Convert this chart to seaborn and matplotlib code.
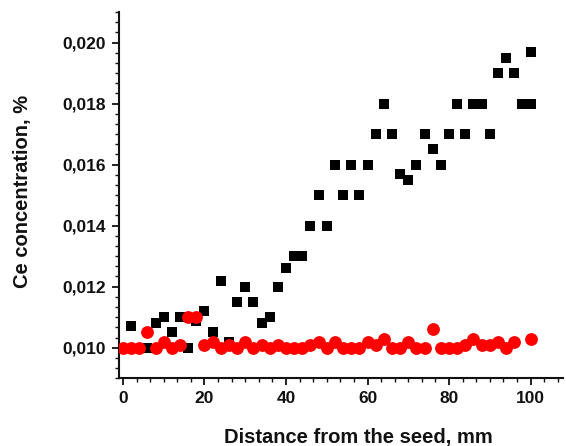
import numpy as np
import pandas as pd
import matplotlib
matplotlib.use("Agg")
import matplotlib.pyplot as plt
import seaborn as sns
from matplotlib.ticker import FuncFormatter, AutoMinorLocator, MultipleLocator

# black squares
sq_x = [2, 6, 8, 10, 12, 14, 16, 18, 20, 22, 24, 26, 28, 30, 32, 34, 36, 38, 40,
        42, 44, 46, 48, 50, 52, 54, 56, 58, 60, 62, 64, 66, 68, 70, 72, 74, 76,
        78, 80, 82, 84, 86, 88, 90, 92, 94, 96, 98, 100, 100]
sq_y = [0.0107, 0.0100, 0.0108, 0.0110, 0.0105, 0.0110, 0.0100, 0.01086, 0.0112,
        0.0105, 0.0122, 0.0102, 0.0115, 0.0120, 0.0115, 0.0108, 0.0110, 0.0120,
        0.0126, 0.0130, 0.0130, 0.0140, 0.0150, 0.0140, 0.0160, 0.0150, 0.0160,
        0.0150, 0.0160, 0.0170, 0.0180, 0.0170, 0.0157, 0.0155, 0.0160, 0.0170,
        0.0165, 0.0160, 0.0170, 0.0180, 0.0170, 0.0180, 0.0180, 0.0170, 0.0190,
        0.0195, 0.0190, 0.0180, 0.0180, 0.0197]

# red circles
ci_x = [0, 2, 4, 6, 8, 10, 12, 14, 16, 18, 20, 22, 24, 26, 28, 30, 32, 34, 36, 38,
        40, 42, 44, 46, 48, 50, 52, 54, 56, 58, 60, 62, 64, 66, 68, 70, 72, 74, 76,
        78, 80, 82, 84, 86, 88, 90, 92, 94, 96, 100]
ci_y = [0.0100, 0.0100, 0.0100, 0.0105, 0.0100, 0.0102, 0.0100, 0.0101, 0.0110,
        0.0110, 0.0101, 0.0102, 0.0100, 0.0101, 0.0100, 0.0102, 0.0100, 0.0101,
        0.0100, 0.0101, 0.0100, 0.0100, 0.0100, 0.0101, 0.0102, 0.0100, 0.0102,
        0.0100, 0.0100, 0.0100, 0.0102, 0.0101, 0.0103, 0.0100, 0.0100, 0.0102,
        0.0100, 0.0100, 0.0106, 0.0100, 0.0100, 0.0100, 0.0101, 0.0103, 0.0101,
        0.0101, 0.0102, 0.0100, 0.0102, 0.0103]

sns.set_style("ticks")
plt.rcParams['font.family'] = ['Liberation Sans', 'DejaVu Sans']
plt.rcParams['font.weight'] = 'bold'
plt.rcParams['text.color'] = '#111111'
plt.rcParams['axes.labelcolor'] = '#111111'
plt.rcParams['xtick.color'] = '#111111'
plt.rcParams['ytick.color'] = '#111111'

fig = plt.figure(figsize=(5.66, 4.46), dpi=100)
ax = fig.add_axes([0.210, 0.152, 0.785, 0.821])

sns.scatterplot(x=sq_x, y=sq_y, marker='s', s=55, color='black', linewidth=0, ax=ax, zorder=2)
sns.scatterplot(x=ci_x, y=ci_y, marker='o', s=85, color='red', linewidth=0, ax=ax, zorder=3)

ax.set_xlim(-1, 108)
ax.set_ylim(0.009, 0.021)
ax.xaxis.set_major_locator(MultipleLocator(20))
ax.yaxis.set_major_locator(MultipleLocator(0.002))
ax.xaxis.set_minor_locator(AutoMinorLocator(6))
ax.yaxis.set_minor_locator(AutoMinorLocator(6))
ax.yaxis.set_major_formatter(FuncFormatter(lambda v, p: f"{v:.3f}".replace('.', ',')))
ax.xaxis.set_major_formatter(FuncFormatter(lambda v, p: f"{v:.0f}"))

for s in ['top', 'right']:
    ax.spines[s].set_visible(False)
for s in ['left', 'bottom']:
    ax.spines[s].set_linewidth(1.5)
    ax.spines[s].set_color('#111111')

ax.tick_params(which='major', length=5, width=1.3, labelsize=12.5, pad=4)
ax.tick_params(which='minor', length=3, width=1.0)
for lab in ax.get_xticklabels() + ax.get_yticklabels():
    lab.set_fontweight('bold')

ax.set_xlabel("Distance from the seed, mm", fontsize=14.5, fontweight='bold')
ax.set_ylabel("Ce concentration, %", fontsize=14.5, fontweight='bold')
ax.xaxis.set_label_coords(0.538, -0.137)
ax.yaxis.set_label_coords(-0.196, 0.51)

fig.savefig("out.png", dpi=100)
